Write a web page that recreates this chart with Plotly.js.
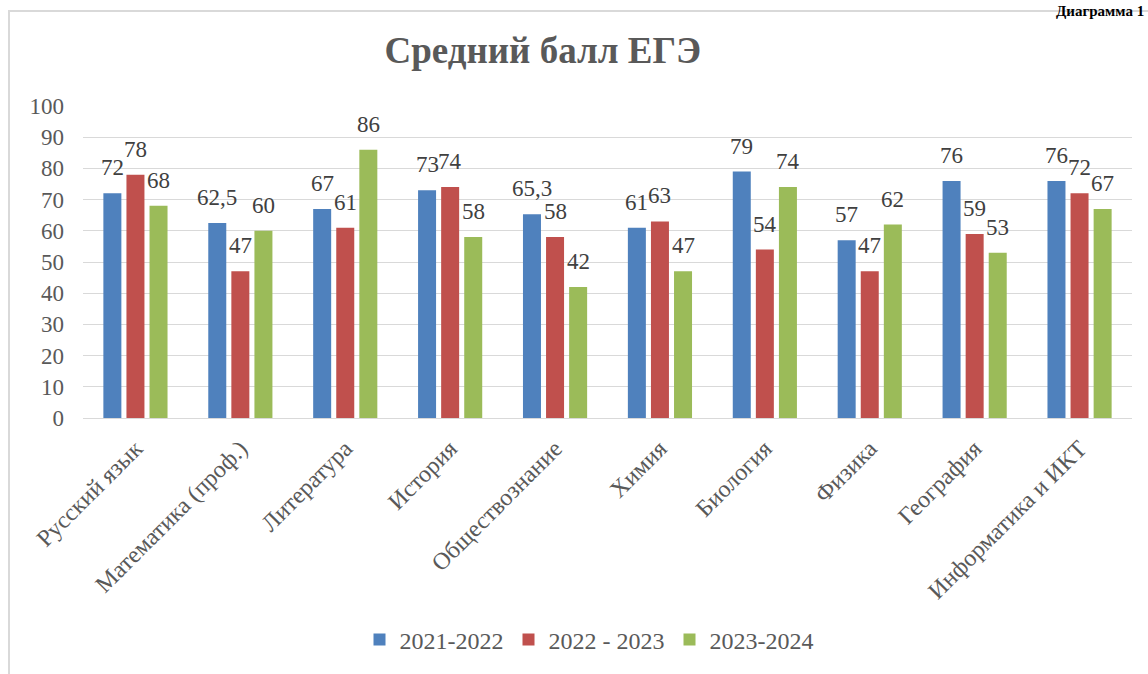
<!DOCTYPE html>
<html><head><meta charset="utf-8">
<script src="https://cdn.plot.ly/plotly-3.0.1.min.js"></script>
<style>html,body{margin:0;padding:0;background:#fff;}#chart{width:1148px;height:674px;}</style>
</head><body><div id="chart"></div>
<script>
const categories = ["Русский язык","Математика (проф.)","Литература","История","Обществознание","Химия","Биология","Физика","География","Информатика и ИКТ"];
const seriesNames = ["2021-2022","2022 - 2023","2023-2024"];
const s2122 = [72, 62.5, 67, 73, 65.3, 61, 79, 57, 76, 76];
const s2223 = [78, 47, 61, 74, 58, 63, 54, 47, 59, 72];
const s2324 = [68, 60, 86, 58, 42, 47, 74, 62, 53, 67];
const yTicks = [0,10,20,30,40,50,60,70,80,90,100];

const colors = ["#4f81bd","#c0504d","#9bbb59"];
const serif = "'Times New Roman', 'Liberation Serif', serif";
const values = [s2122, s2223, s2324];
const L=83,R=16,T=106,B=253,W=1148,H=674;
const pw=W-L-R, ph=H-T-B;
const px=(x)=>(x-L)/pw, py=(y)=>(H-B-y)/ph;
const BARGAP=0.34, GROUPGAP=0.22;
const slot = pw/categories.length*(1-BARGAP)/values.length;
const fmt = (v)=>String(v).replace('.', ',');

const traces = values.map((v,i)=>({
  type:'bar', x:categories, y:v, name:seriesNames[i],
  marker:{color:colors[i]}, hoverinfo:'skip'
}));
const labels = [];
values.forEach((v,i)=>{
  v.forEach((val,j)=>{
    labels.push({x:categories[j], y:val, xref:'x', yref:'y', text:fmt(val), showarrow:false,
      xanchor:'center', yanchor:'bottom', xshift:(i-1)*slot, yshift:11,
      font:{family:serif,size:23,color:'#404040'}});
  });
});
labels.push({text:'<b>Диаграмма 1</b>', xref:'paper', yref:'paper', x:px(1146), xanchor:'right', y:py(0), yanchor:'top', showarrow:false, font:{family:serif,size:15,color:'#000'}});

const layout = {
  width:W, height:H,
  font:{family:serif},
  margin:{l:L,r:R,t:T,b:B,pad:0},
  paper_bgcolor:'#fff', plot_bgcolor:'#fff',
  barmode:'group', bargap:BARGAP, bargroupgap:GROUPGAP,
  title:{text:'<b>Средний балл ЕГЭ</b>', font:{family:serif,size:37,color:'#595959'}, x:px(579), xanchor:'center', y:1-50/H, yanchor:'middle'},
  xaxis:{tickangle:-45, tickfont:{family:serif,size:24,color:'#595959'}, showline:true, linecolor:'#d9d9d9', linewidth:1, ticks:'', ticklabelstandoff:6, automargin:false},
  yaxis:{range:[0,100], tickvals:yTicks, tickfont:{family:serif,size:23,color:'#595959'}, gridcolor:'#d9d9d9', gridwidth:1, zeroline:false, showline:false, ticklabelstandoff:18, automargin:false},
  legend:{orientation:'h', x:px(589), xanchor:'center', y:py(645), yanchor:'middle', font:{family:serif,size:24,color:'#595959'}, itemwidth:30, traceorder:'normal'},
  shapes:[{type:'rect', xref:'paper', yref:'paper', x0:px(9), x1:1.2, y0:-1.5, y1:py(10), line:{color:'#d9d9d9',width:2}, fillcolor:'rgba(0,0,0,0)', layer:'below'}],
  annotations:labels
};
Plotly.newPlot('chart', traces, layout, {displayModeBar:false, staticPlot:true});
</script></body></html>
